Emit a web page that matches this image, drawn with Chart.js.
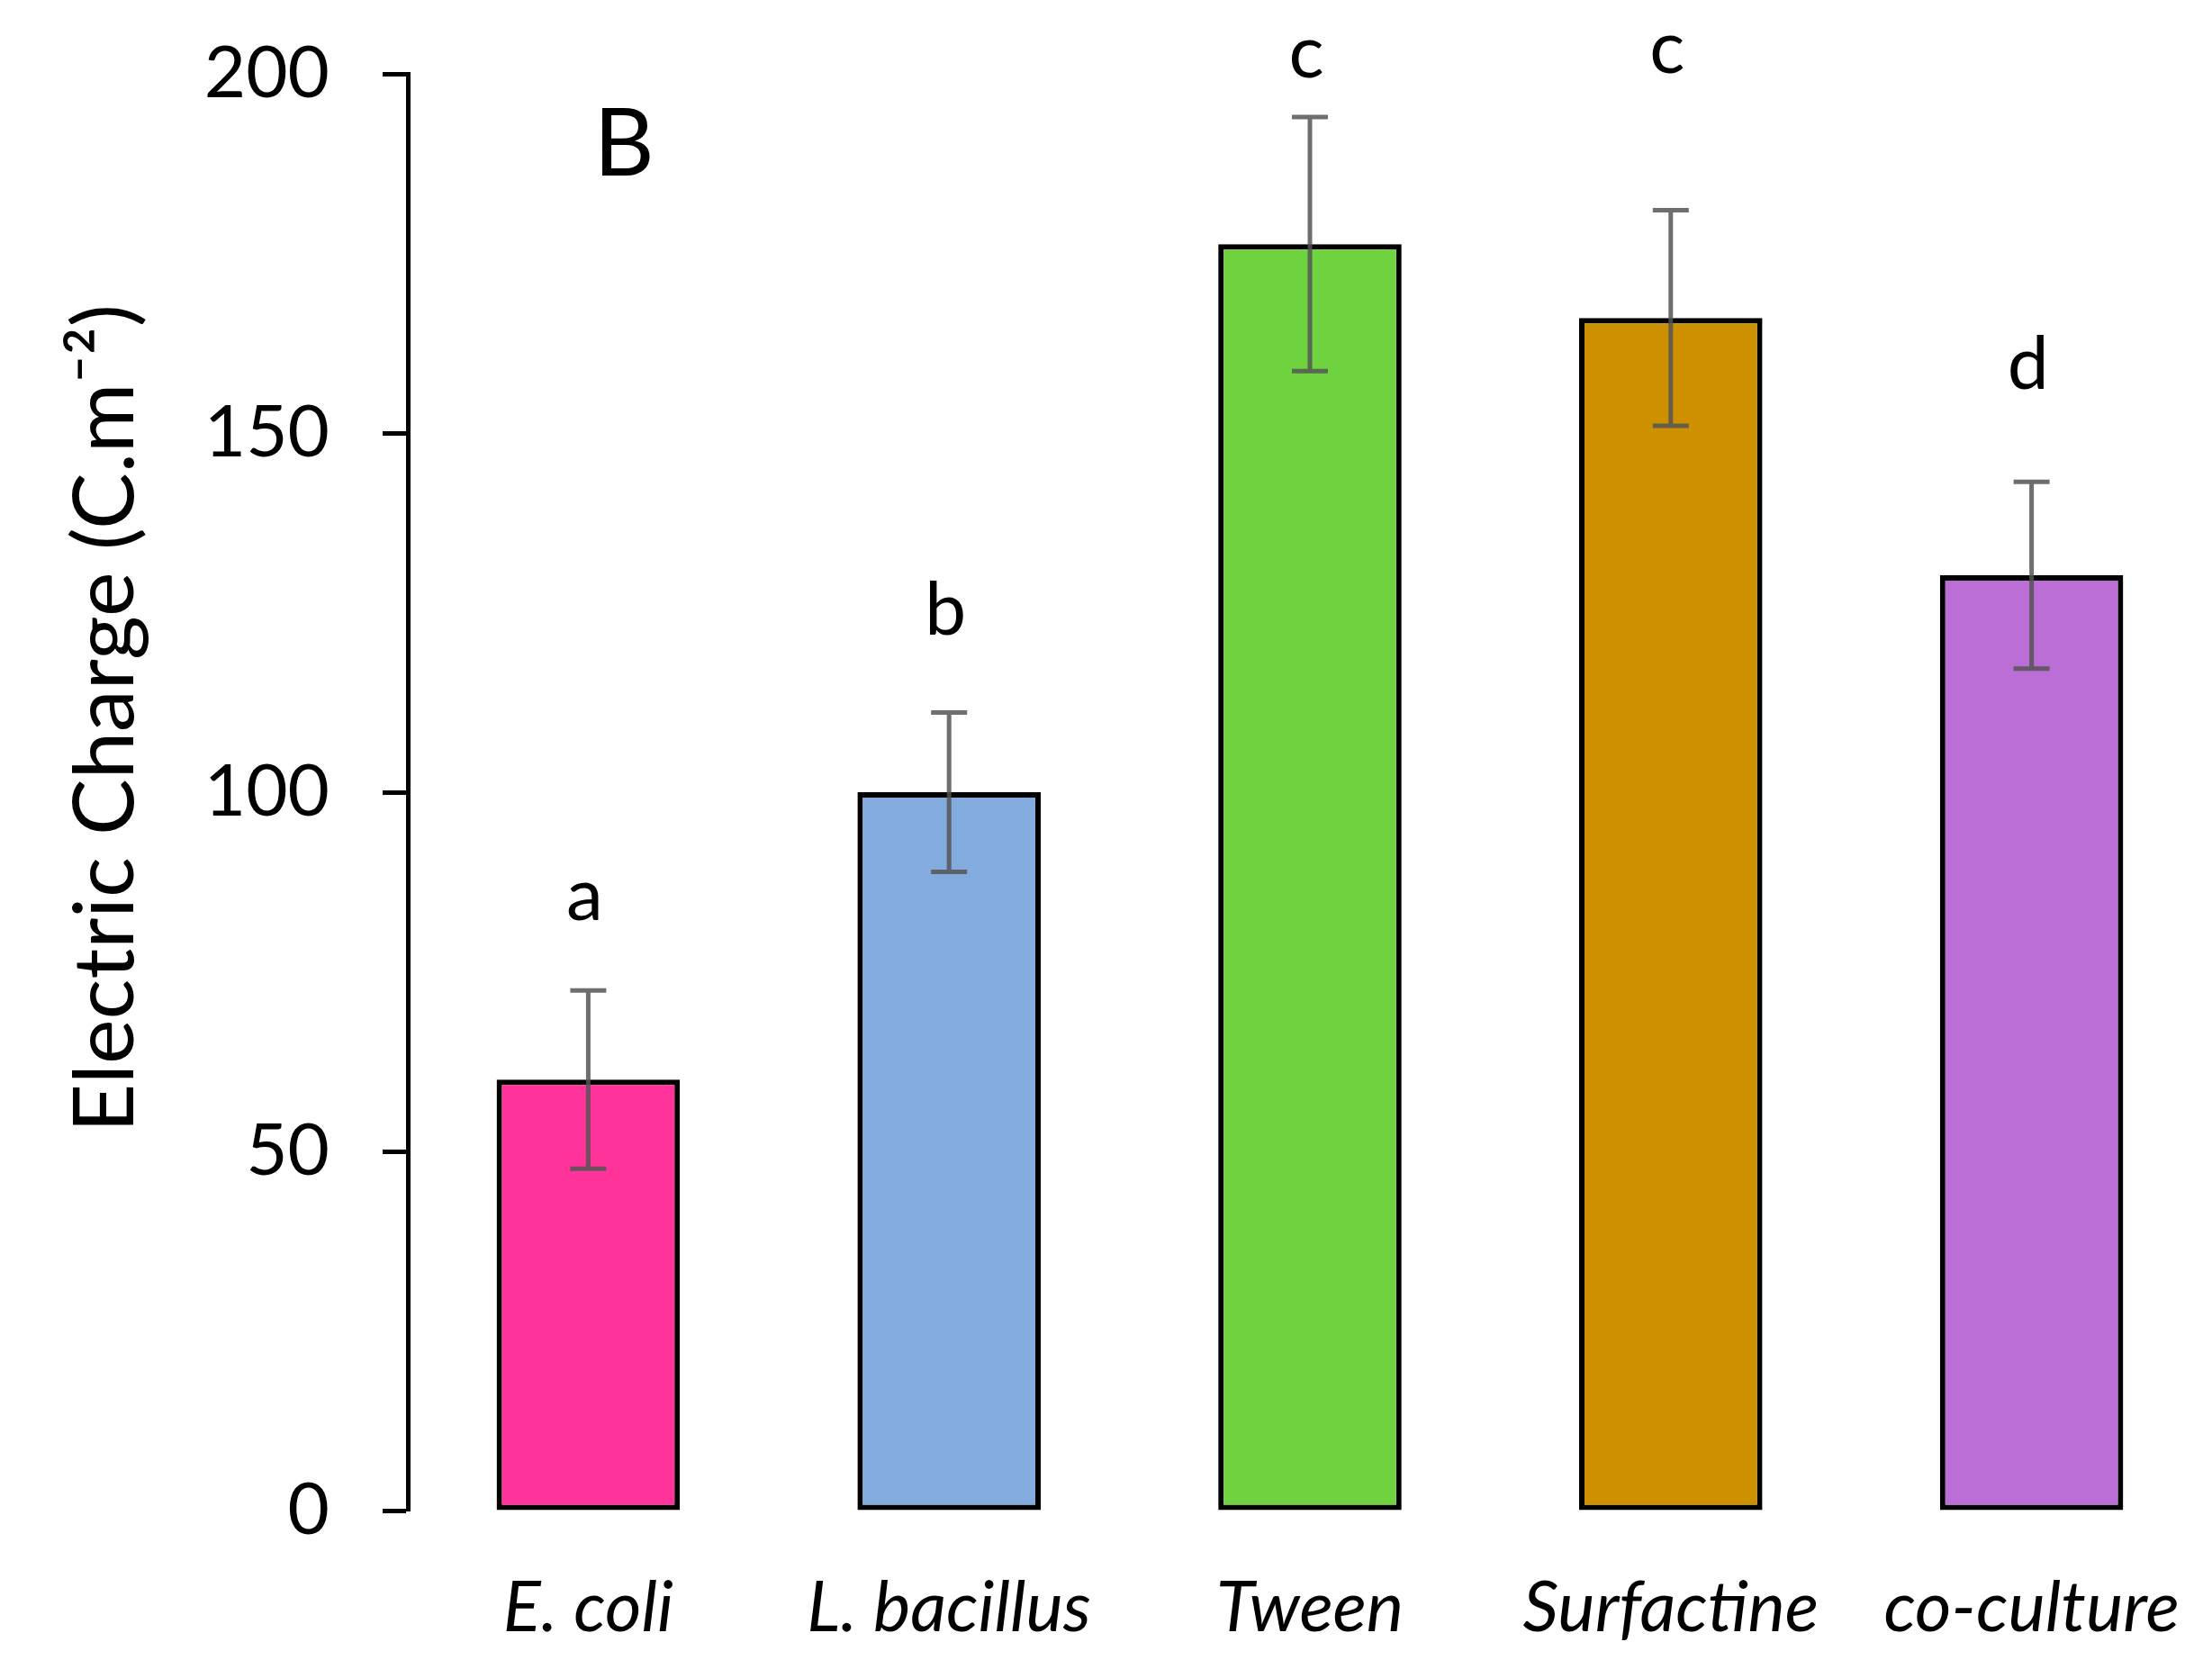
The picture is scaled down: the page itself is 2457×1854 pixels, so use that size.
<!DOCTYPE html>
<html>
<head>
<meta charset="utf-8">
<script src="https://cdn.jsdelivr.net/npm/chart.js@4.4.0/dist/chart.umd.min.js"></script>
<style>
  html, body { margin: 0; padding: 0; background: #fff; overflow: hidden; }
  #caixa { width: 2457px; height: 1854px; }
</style>
</head>
<body>
<div id="caixa"><canvas id="grafico"></canvas></div>
<script>
// dados
const categorias = ['E. coli', 'L. bacillus', 'Tween', 'Surfactine', 'co-culture'];
const valores = [60, 100, 176.3, 166, 130.2];
const erros = [12.4, 11.1, 17.7, 15, 13];
const letras = ['a', 'b', 'c', 'c', 'd'];
const alturaLetras = [85.5, 125.3, 202.8, 203.4, 159.5];
const cores = ['#FF3399', '#84ABDE', '#6ED33F', '#CD9100', '#BB6ED6'];
const ticksY = [0, 50, 100, 150, 200];
const tituloY = 'Electric Charge (C.m\u207B\u00B2)';
const painel = 'B';
const painelValor = 190;

const FONTE = 'Lato, "Open Sans", sans-serif';

// barras de erro
const barrasErro = {
    id: 'barrasErro',
    afterDatasetsDraw(chart) {
        const ctx = chart.ctx;
        const meta = chart.getDatasetMeta(0);
        const y = chart.scales.y;
        ctx.save();
        ctx.strokeStyle = 'rgba(85,85,85,0.85)';
        ctx.lineWidth = 5;
        meta.data.forEach((barra, i) => {
            const x = barra.x;
            const yTop = y.getPixelForValue(valores[i] + erros[i]);
            const yBot = y.getPixelForValue(valores[i] - erros[i]);
            ctx.beginPath();
            ctx.moveTo(x, yTop);
            ctx.lineTo(x, yBot);
            ctx.moveTo(x - 20, yTop);
            ctx.lineTo(x + 20, yTop);
            ctx.moveTo(x - 20, yBot);
            ctx.lineTo(x + 20, yBot);
            ctx.stroke();
        });
        ctx.restore();
    }
};

// letras de significância, painel e título do eixo
const textos = {
    id: 'textos',
    afterDraw(chart) {
        const ctx = chart.ctx;
        const meta = chart.getDatasetMeta(0);
        const y = chart.scales.y;
        const area = chart.chartArea;
        ctx.save();
        ctx.fillStyle = '#000';
        ctx.textAlign = 'center';
        ctx.textBaseline = 'middle';
        ctx.font = '82px ' + FONTE;
        meta.data.forEach((barra, i) => {
            ctx.fillText(letras[i], barra.x - 4, y.getPixelForValue(alturaLetras[i]));
        });
        ctx.font = '104px ' + FONTE;
        ctx.fillText(painel, area.left + 240, y.getPixelForValue(painelValor));

        ctx.translate(118, (area.top + area.bottom) / 2 - 82);
        ctx.rotate(-Math.PI / 2);
        ctx.font = '94px ' + FONTE;
        ctx.fillText(tituloY, 0, 0);
        ctx.restore();
    }
};

new Chart(document.getElementById('grafico'), {
    type: 'bar',
    data: {
        labels: categorias,
        datasets: [{
            data: valores,
            backgroundColor: cores,
            borderColor: '#000',
            borderWidth: 6,
            borderSkipped: false,
            barPercentage: 0.508,
            categoryPercentage: 1
        }]
    },
    options: {
        responsive: true,
        maintainAspectRatio: false,
        devicePixelRatio: 1,
        animation: false,
        layout: { padding: { top: 82, left: 0, right: 0, bottom: 0 } },
        plugins: {
            legend: { display: false },
            tooltip: { enabled: false }
        },
        scales: {
            x: {
                grid: { display: false },
                border: { display: false },
                ticks: {
                    color: '#000',
                    padding: 54,
                    maxRotation: 0,
                    font: { family: FONTE, size: 78, style: 'italic' }
                },
                afterFit(scale) {
                    scale.height = 176;
                    scale.paddingLeft = 0;
                    scale.paddingRight = 0;
                }
            },
            y: {
                min: 0,
                max: 200,
                afterBuildTicks(scale) {
                    scale.ticks = ticksY.map(v => ({ value: v }));
                },
                grid: {
                    drawOnChartArea: false,
                    drawTicks: true,
                    tickLength: 28,
                    tickWidth: 5,
                    tickColor: '#000'
                },
                border: { display: true, color: '#000', width: 5 },
                ticks: {
                    color: '#000',
                    padding: 59,
                    font: { family: FONTE, size: 80 }
                },
                afterFit(scale) {
                    scale.width = 453;
                    scale.paddingTop = 0;
                    scale.paddingBottom = 0;
                }
            }
        }
    },
    plugins: [barrasErro, textos]
});
</script>
</body>
</html>
